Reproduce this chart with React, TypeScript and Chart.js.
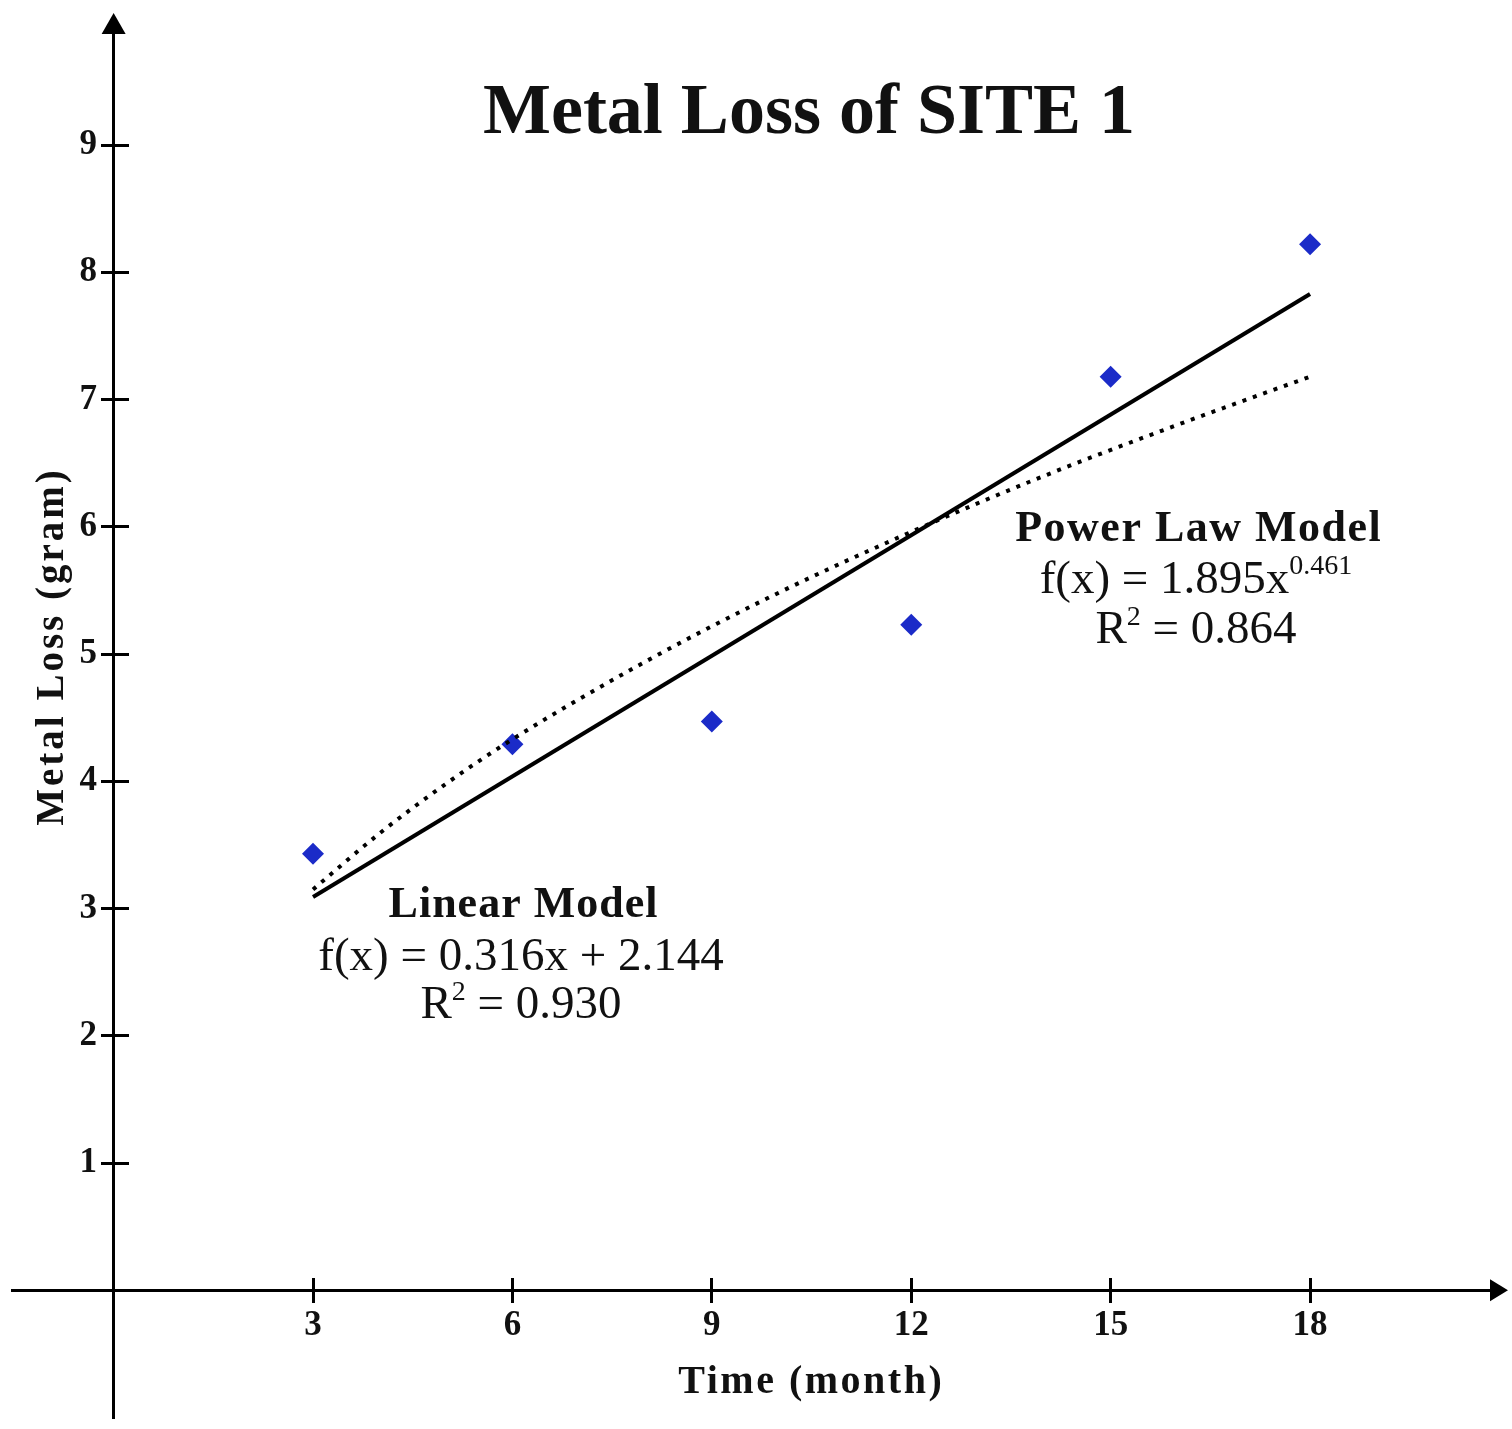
import React, { useEffect, useRef } from "react";
import { Chart, registerables } from "chart.js";

Chart.register(...registerables);

// ---- data ----
const monthsObserved = [3, 6, 9, 12, 15, 18];
const metalLossObserved = [3.43, 4.29, 4.47, 5.23, 7.18, 8.22];

const linearFitMonths = [3, 18];
const linearFitLoss = [3.09, 7.83];

const powerFitMonths = [3, 4, 5, 6, 8, 10, 12, 14, 16, 18];
const powerFitLoss = [3.15, 3.59, 3.98, 4.33, 4.94, 5.48, 5.96, 6.4, 6.8, 7.18];

const xTickValues = [3, 6, 9, 12, 15, 18];
const yTickValues = [1, 2, 3, 4, 5, 6, 7, 8, 9];

const chartTitle = "Metal Loss of SITE 1";
const xAxisTitle = "Time (month)";
const yAxisTitle = "Metal Loss (gram)";
const linearLabel = ["Linear Model", "f(x) = 0.316x + 2.144", "0.930"];
const powerLabel = ["Power Law Model", "f(x) = 1.895x", "0.461", "0.864"];

const SERIF = '"Liberation Serif", "Times New Roman", serif';

type Seg = { t: string; font: string; dy?: number };

function drawRich(ctx: CanvasRenderingContext2D, segs: Seg[], cx: number, baseline: number, spacing = 0) {
  (ctx as any).letterSpacing = spacing + "px";
  const widths = segs.map((s) => {
    ctx.font = s.font;
    return ctx.measureText(s.t).width;
  });
  const total = widths.reduce((a, b) => a + b, 0) - spacing;
  let x = cx - total / 2;
  ctx.textAlign = "left";
  ctx.textBaseline = "alphabetic";
  segs.forEach((s, i) => {
    ctx.font = s.font;
    ctx.fillText(s.t, x, baseline + (s.dy || 0));
    x += widths[i];
  });
  (ctx as any).letterSpacing = "0px";
}

const decorPlugin = {
  id: "decor",
  afterDraw(chart: any) {
    const ctx: CanvasRenderingContext2D = chart.ctx;
    const xs = chart.scales.x;
    const ys = chart.scales.y;
    const area = chart.chartArea;
    const ax = xs.getPixelForValue(0);
    const ay = ys.getPixelForValue(0);
    ctx.save();
    ctx.fillStyle = "#000";
    // arrow heads
    ctx.beginPath();
    ctx.moveTo(ax, area.top - 9);
    ctx.lineTo(ax - 12, area.top + 12);
    ctx.lineTo(ax + 12, area.top + 12);
    ctx.closePath();
    ctx.fill();
    ctx.beginPath();
    ctx.moveTo(area.right + 8, ay);
    ctx.lineTo(area.right - 10, ay - 11);
    ctx.lineTo(area.right - 10, ay + 11);
    ctx.closePath();
    ctx.fill();

    ctx.fillStyle = "#111";
    const bold = (s: number) => `bold ${s}px ${SERIF}`;
    const reg = (s: number) => `${s}px ${SERIF}`;

    drawRich(ctx, [{ t: chartTitle, font: bold(72) }], 809, 133);
    drawRich(ctx, [{ t: xAxisTitle, font: bold(40) }], 810, 1393, 2.5);

    ctx.save();
    ctx.translate(63, 648);
    ctx.rotate(-Math.PI / 2);
    drawRich(ctx, [{ t: yAxisTitle, font: bold(39) }], 0, 0, 3);
    ctx.restore();

    drawRich(ctx, [{ t: linearLabel[0], font: bold(44) }], 523, 917, 1);
    drawRich(ctx, [{ t: linearLabel[1], font: reg(47) }], 521, 970);
    drawRich(ctx, [
      { t: "R", font: reg(47) },
      { t: "2", font: reg(28), dy: -18 },
      { t: " = " + linearLabel[2], font: reg(47) },
    ], 521, 1018);

    drawRich(ctx, [{ t: powerLabel[0], font: bold(44) }], 1198, 541, 1.5);
    drawRich(ctx, [
      { t: powerLabel[1], font: reg(47) },
      { t: powerLabel[2], font: reg(28), dy: -19 },
    ], 1196, 593);
    drawRich(ctx, [
      { t: "R", font: reg(47) },
      { t: "2", font: reg(28), dy: -18 },
      { t: " = " + powerLabel[3], font: reg(47) },
    ], 1196, 643);
    ctx.restore();
  },
};

export default function App() {
  const canvasRef = useRef<HTMLCanvasElement | null>(null);

  useEffect(() => {
    if (!canvasRef.current) return;

    const X_MIN = -1.529;
    const X_MAX = 20.858;
    const Y_MIN = -1.004;
    const Y_MAX = 9.967;

    const zeroFit = (s: any) => {
      if (s.isHorizontal()) s.height = 0;
      else s.width = 0;
      s.paddingTop = 0;
      s.paddingBottom = 0;
      s.paddingLeft = 0;
      s.paddingRight = 0;
    };
    const setYTicks = (s: any) => {
      s.ticks = yTickValues.map((v) => ({ value: v }));
    };
    const setXTicks = (s: any) => {
      s.ticks = xTickValues.map((v) => ({ value: v }));
    };
    const tickFont = { family: SERIF, size: 35, weight: "bold" as const };

    const chart = new Chart(canvasRef.current, {
      type: "scatter",
      data: {
        datasets: [
          {
            label: "Linear Model",
            data: linearFitMonths.map((x, i) => ({ x, y: linearFitLoss[i] })),
            showLine: true,
            borderColor: "#000",
            borderWidth: 4,
            pointRadius: 0,
            fill: false,
          },
          {
            label: "Power Law Model",
            data: powerFitMonths.map((x, i) => ({ x, y: powerFitLoss[i] })),
            showLine: true,
            borderColor: "#000",
            borderWidth: 4,
            borderDash: [4, 7],
            pointRadius: 0,
            cubicInterpolationMode: "monotone",
            fill: false,
          },
          {
            label: "Observed",
            data: monthsObserved.map((x, i) => ({ x, y: metalLossObserved[i] })),
            showLine: false,
            pointStyle: "rectRot",
            pointRadius: 11,
            backgroundColor: "#1b2bc8",
            borderColor: "#1b2bc8",
            borderWidth: 0,
          },
        ],
      },
      options: {
        responsive: false,
        animation: false,
        layout: { padding: { left: 12, right: 12, top: 22, bottom: 11 } },
        plugins: {
          legend: { display: false },
          tooltip: { enabled: false },
          title: { display: false },
        },
        scales: {
          x: {
            type: "linear",
            position: { y: 0 } as any,
            min: X_MIN,
            max: X_MAX,
            afterBuildTicks: setXTicks,
            afterFit: zeroFit,
            grid: {
              display: true,
              drawOnChartArea: false,
              drawTicks: true,
              tickLength: 11,
              tickWidth: 3,
              tickColor: "#000",
            },
            border: { display: true, color: "#000", width: 3 },
            ticks: { color: "#111", font: tickFont, padding: 4, autoSkip: false, maxRotation: 0 },
          },
          y: {
            type: "linear",
            position: { x: 0 } as any,
            min: Y_MIN,
            max: Y_MAX,
            afterBuildTicks: setYTicks,
            afterFit: zeroFit,
            grid: {
              display: true,
              drawOnChartArea: false,
              drawTicks: true,
              tickLength: 11,
              tickWidth: 3,
              tickColor: "#000",
            },
            border: { display: true, color: "#000", width: 3 },
            ticks: { display: false },
          },
          // tick labels of the y axis, set just left of the outward tick marks
          yLabels: {
            type: "linear",
            axis: "y",
            position: { x: -0.25 } as any,
            min: Y_MIN,
            max: Y_MAX,
            afterBuildTicks: setYTicks,
            afterFit: zeroFit,
            grid: { display: false },
            border: { display: false },
            ticks: { color: "#111", font: tickFont, autoSkip: false },
          },
          x2: {
            type: "linear",
            axis: "x",
            position: { y: 0 } as any,
            min: X_MIN,
            max: X_MAX,
            afterBuildTicks: setXTicks,
            afterFit: zeroFit,
            grid: {
              display: true,
              drawOnChartArea: false,
              drawTicks: true,
              tickLength: -12,
              tickWidth: 3,
              tickColor: "#000",
            },
            border: { display: false },
            ticks: { display: false },
          },
          y2: {
            type: "linear",
            axis: "y",
            position: { x: 0 } as any,
            min: Y_MIN,
            max: Y_MAX,
            afterBuildTicks: setYTicks,
            afterFit: zeroFit,
            grid: {
              display: true,
              drawOnChartArea: false,
              drawTicks: true,
              tickLength: -15,
              tickWidth: 3,
              tickColor: "#000",
            },
            border: { display: false },
            ticks: { display: false },
          },
        } as any,
      },
      plugins: [decorPlugin],
    } as any);

    return () => chart.destroy();
  }, []);

  return (
    <div style={{ position: "absolute", left: 0, top: 0, width: 1512, height: 1429, background: "#fff" }}>
      <canvas ref={canvasRef} width={1512} height={1429} style={{ display: "block" }} />
    </div>
  );
}
